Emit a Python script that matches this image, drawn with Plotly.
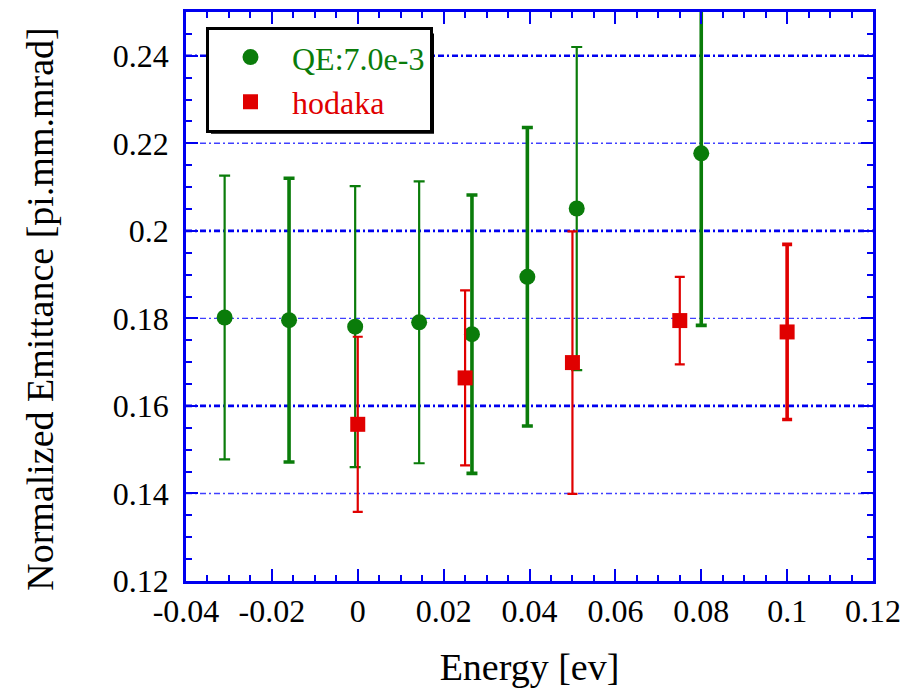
import plotly.graph_objects as go

# ---------------- data ----------------
qe_x = [-0.031, -0.016, -0.0006, 0.0143, 0.0266, 0.0395, 0.051, 0.080]
qe_y = [0.1802, 0.1796, 0.1781, 0.1791, 0.1764, 0.1895, 0.2051, 0.2177]
qe_err = [0.0324, 0.0324, 0.0321, 0.0322, 0.0318, 0.0341, 0.0369, 0.0393]

hodaka_x = [0.0, 0.025, 0.05, 0.075, 0.10]
hodaka_y = [0.1558, 0.1664, 0.1699, 0.1795, 0.1769]
hodaka_err = [0.020, 0.020, 0.030, 0.010, 0.020]

x_tickvals = [-0.04, -0.02, 0.0, 0.02, 0.04, 0.06, 0.08, 0.10, 0.12]
x_ticktext = ["-0.04", "-0.02", "0", "0.02", "0.04", "0.06", "0.08", "0.1", "0.12"]
y_tickvals = [0.12, 0.14, 0.16, 0.18, 0.20, 0.22, 0.24]
y_ticktext = ["0.12", "0.14", "0.16", "0.18", "0.2", "0.22", "0.24"]
grid_bold = [0.16, 0.20, 0.24]
grid_thin = [0.14, 0.18, 0.22]

# ---------------- style ----------------
GREEN = "#0a7c0a"
RED = "#e00000"
BLUE = "#0000f0"
FONT = "Liberation Serif, Times New Roman, Times, serif"
qe_thick = {1, 4, 5, 7}
hodaka_thick = {4}

W, H = 923, 691
ML, MR, MT, MB = 186, 50, 9, 103
PW, PH = W - ML - MR, H - MT - MB


def px2paper_x(p):
    return (p - ML) / PW


def px2paper_y(p):
    return 1 - (p - MT) / PH


fig = go.Figure()


def add_series(xs, ys, es, thick, color, symbol, name, cap, msize):
    for group, thickness, show in ((False, 2.2, True), (True, 3.6, False)):
        idx = [i for i in range(len(xs)) if (i in thick) == group]
        if not idx:
            continue
        fig.add_trace(go.Scatter(
            x=[xs[i] for i in idx], y=[ys[i] for i in idx],
            mode="markers",
            name=f"<span style='color:{color}'>{name}</span>",
            legendgroup=name, showlegend=show,
            marker=dict(symbol=symbol, size=msize, color=color, line=dict(width=0)),
            error_y=dict(type="data", array=[es[i] for i in idx], visible=True,
                         color=color, thickness=thickness, width=cap),
        ))


add_series(qe_x, qe_y, qe_err, qe_thick, GREEN, "circle", "QE:7.0e-3", 5.5, 16)
add_series(hodaka_x, hodaka_y, hodaka_err, hodaka_thick, RED, "square", "hodaka", 5, 15)

shapes = []
for v in grid_bold:
    shapes.append(dict(type="line", xref="paper", x0=0, x1=1, yref="y", y0=v, y1=v,
                       layer="below", line=dict(color=BLUE, width=2.6, dash="6px,3px,2px,3px")))
for v in grid_thin:
    shapes.append(dict(type="line", xref="paper", x0=0, x1=1, yref="y", y0=v, y1=v,
                       layer="below", line=dict(color="#4040ff", width=1.4, dash="6px,3px,2px,3px")))

# legend shadow
shapes.append(dict(type="rect", xref="paper", yref="paper",
                   x0=px2paper_x(211), x1=px2paper_x(434),
                   y0=px2paper_y(133), y1=px2paper_y(31),
                   line=dict(width=0), fillcolor="black", layer="above"))

axis_common = dict(
    showline=True, linecolor=BLUE, linewidth=2.8, mirror="ticks",
    ticks="inside", ticklen=12, tickwidth=2, tickcolor=BLUE,
    showgrid=False, zeroline=False,
    tickfont=dict(family=FONT, size=32, color="black"),
)

fig.update_layout(
    width=W, height=H,
    margin=dict(l=ML, r=MR, t=MT, b=MB),
    paper_bgcolor="white", plot_bgcolor="white",
    font=dict(family=FONT, color="black"),
    shapes=shapes,
    showlegend=True,
    legend=dict(
        x=px2paper_x(206), y=px2paper_y(24), xanchor="left", yanchor="top",
        bgcolor="white", bordercolor="black", borderwidth=3,
        font=dict(family=FONT, size=32),
        tracegroupgap=0, itemsizing="trace", itemwidth=73,
    ),
    annotations=[dict(
        text="Normalized Emittance [pi.mm.mrad]", textangle=-90,
        xref="paper", yref="paper", x=px2paper_x(40), y=px2paper_y(312),
        xanchor="center", yanchor="middle", showarrow=False,
        font=dict(family=FONT, size=38, color="black"),
    )],
    xaxis=dict(
        **axis_common,
        range=[-0.04, 0.12],
        tickvals=x_tickvals, ticktext=x_ticktext,
        minor=dict(dtick=0.005, ticks="inside", ticklen=6, tickwidth=1.5, tickcolor=BLUE),
        title=dict(text="Energy [ev]", font=dict(family=FONT, size=38), standoff=26),
    ),
    yaxis=dict(
        **axis_common,
        range=[0.12, 0.25],
        tickvals=y_tickvals, ticktext=y_ticktext,
        ticklabelstandoff=8,
        minor=dict(dtick=0.005, ticks="inside", ticklen=6, tickwidth=1.5, tickcolor=BLUE),
    ),
)

fig.write_html("out.html")
